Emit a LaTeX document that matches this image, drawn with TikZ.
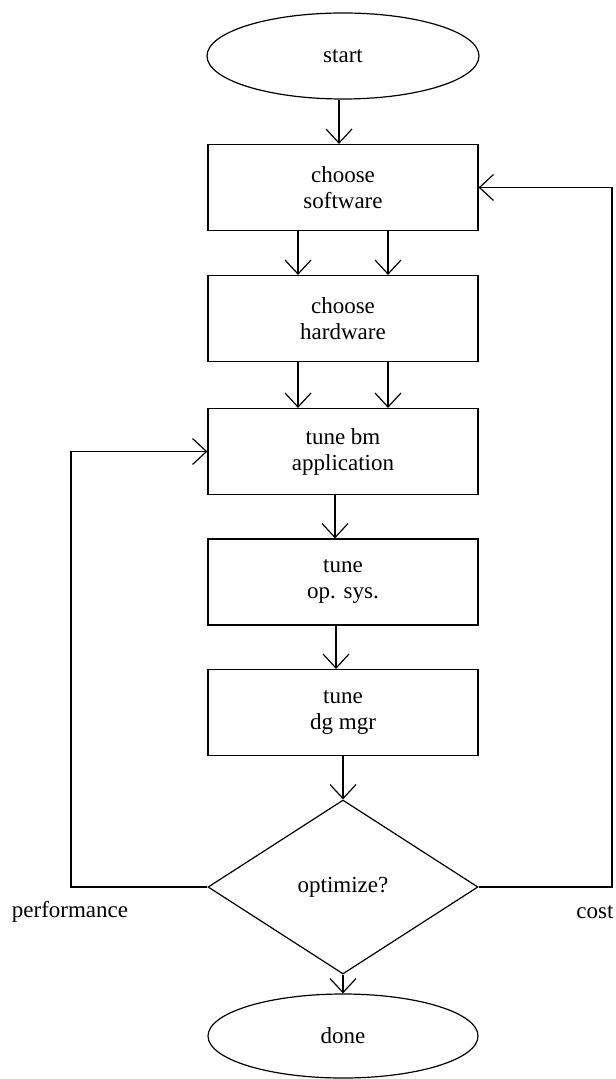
\documentclass[tikz,border=0pt]{standalone}
\usepackage{fontspec}
\setmainfont{Liberation Serif}
\usetikzlibrary{shapes.geometric,arrows.meta}

\begin{document}
\begin{tikzpicture}[
  x=0.5pt, y=-0.5pt,
  line width=0.6pt,
  font=\fontsize{11.5}{13}\selectfont,
  stepbox/.style={draw, rectangle, minimum width=135pt, minimum height=43pt,
                  align=center, inner sep=0pt},
  terminal/.style={draw, ellipse, minimum width=136pt, minimum height=43pt, inner sep=0pt},
  decision/.style={draw, diamond, minimum width=135pt, minimum height=87pt, inner sep=0pt},
  flow/.style={-{Straight Barb[length=7pt,width=13pt]}},
  lbl/.style={inner sep=0pt}
]
\useasboundingbox (0,0) rectangle (615,1079);

% terminals
\node[terminal] (start) at (343,56) {start};
\node[terminal, minimum width=135pt, minimum height=42pt] (done) at (343,1036) {done};

% process steps
\node[stepbox] (sw)  at (343,187.5) {choose\\software};
\node[stepbox] (hw)  at (343,318.5) {choose\\hardware};
\node[stepbox] (app) at (343,451.5) {tune bm\\application};
\node[stepbox] (os)  at (343,582)   {tune\\op. sys.};
\node[stepbox] (dg)  at (343,712.5) {tune\\dg mgr};

% decision
\node[decision] (opt) at (343,887) {optimize?};

% branch labels
\node[lbl] (perf) at (70,912) {performance};
\node[lbl] (cost) at (595,912) {cost};

% loop corners
\coordinate (pl) at (71,887);
\coordinate (cr) at (612,887);

% main flow
\draw[flow] ([xshift=-2pt]start.south) -- ([xshift=-2pt]sw.north);
\draw[flow] ([xshift=-22.5pt]sw.south) -- ([xshift=-22.5pt]hw.north);
\draw[flow] ([xshift=22.5pt]sw.south)  -- ([xshift=22.5pt]hw.north);
\draw[flow] ([xshift=-22.5pt]hw.south) -- ([xshift=-22.5pt]app.north);
\draw[flow] ([xshift=22.5pt]hw.south)  -- ([xshift=22.5pt]app.north);
\draw[flow] ([xshift=-4pt]app.south) -- ([xshift=-4pt]os.north);
\draw[flow] ([xshift=-3.5pt]os.south) -- ([xshift=-3.5pt]dg.north);
\draw[flow] (dg.south) -- (opt.north);
\draw[flow] (opt.south) -- (done.north);

% feedback loops
\draw[flow] (opt.west) -- (pl) |- (app.west);
\draw[flow] (opt.east) -- (cr) |- (sw.east);
\end{tikzpicture}
\end{document}
